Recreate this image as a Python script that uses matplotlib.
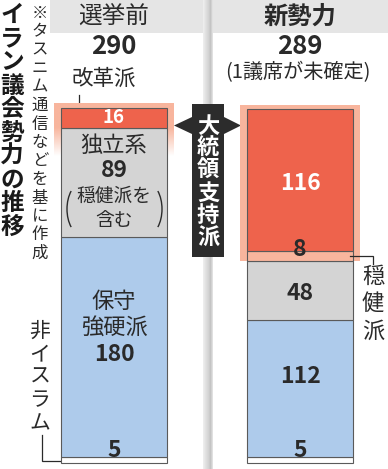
import numpy as np
import matplotlib
matplotlib.use("Agg")
import matplotlib.pyplot as plt
from matplotlib import transforms
from matplotlib.patches import Rectangle, Polygon, Arc
from matplotlib.colors import to_rgb

plt.rcParams['font.family'] = ['Noto Sans CJK JP', 'DejaVu Sans']

# ---- data -------------------------------------------------------------
periods = ["選挙前", "新勢力"]
non_islam = [5, 5]            # 非イスラム
hardliners = [180, 112]       # 保守強硬派
independents = [89, 48]       # 独立系 / 穏健派
moderates = [0, 8]            # 大統領支持の穏健派
reformists = [16, 116]        # 改革派
totals = [a + b + c + d + e for a, b, c, d, e in
          zip(non_islam, hardliners, independents, moderates, reformists)]

# ---- style ------------------------------------------------------------
INK = '#2a2a2a'
RED = '#ee634c'
SALMON = '#f8b59d'
GREY = '#d4d4d4'
BLUE = '#aecbeb'
EDGE = '#5a5a5a'

W, H = 388, 469
fig = plt.figure(figsize=(W / 100, H / 100), dpi=100)

# decoration layer in pixel coordinates
deco = fig.add_axes([0, 0, 1, 1], zorder=0)
deco.set_xlim(0, W)
deco.set_ylim(H, 0)
deco.axis('off')

# bar layer: x in pixels, y in seats
BASE_PX = 463
TOP_PX = 108
S = (BASE_PX - TOP_PX) / totals[0]        # pixels per seat
ax = fig.add_axes([0, 0, 1, 1], zorder=2)
ax.patch.set_alpha(0)
ax.axis('off')
YLIM = (-(H - BASE_PX) / S, BASE_PX / S)

xc = [114, 300]
BW = 106

# header band and divider
deco.add_patch(Rectangle((50, 0), W - 50, 33, color='#e5e5e5', lw=0))
grad = np.array([0.93, 0.91, 0.89, 0.87, 0.85, 0.83, 0.80, 0.77, 0.82, 0.88])
deco.imshow(np.repeat(grad[None, :, None], 3, axis=2), extent=[203, 213, H, 0],
            aspect='auto', interpolation='bilinear', zorder=1)

deco.text(xc[0], 17, periods[0], ha='center', va='center', fontsize=17, color=INK)
deco.text(xc[1], 17, periods[1], ha='center', va='center', fontsize=17.5,
          fontweight='bold', color=INK)
for x, t in zip(xc, totals):
    deco.text(x, 47, f"{t}", ha='center', va='center', fontsize=18.5,
              fontweight='bold', color=INK)
deco.text(298, 73, "(1議席が未確定)", ha='center', va='center', fontsize=14.5, color=INK)
deco.text(104, 79, "改革派", ha='center', va='center', fontsize=15.5, color=INK)


def vtext(a, x, y0, step, s, **kw):
    for i, ch in enumerate(s):
        a.text(x, y0 + i * step, ch, ha='center', va='center', **kw)


vtext(deco, 12, 15, 23.5, "イラン議会勢力の推移", fontsize=17, fontweight='bold', color='#1a1a1a')
vtext(deco, 40, 13, 18.5, "※タスニム通信などを基に作成", fontsize=11.8, color=INK)
vtext(deco, 40, 331, 23, "非イスラム", fontsize=15, color=INK)
vtext(deco, 373, 276, 27.5, "穏健派", fontsize=16, color=INK)

# leader lines
lk = dict(color=INK, lw=0.9, solid_joinstyle='miter')
deco.plot([79, 79], [95, 118], **lk)
deco.plot([42, 42, 63], [435, 461.5, 461.5], **lk)
ax.plot([350, 373, 373], [(BASE_PX - 255.5) / S, (BASE_PX - 255.5) / S, (BASE_PX - 264) / S],
        zorder=4, **lk)

# "大統領支持派" box with arrows
deco.add_patch(Rectangle((192, 104), 32, 153, color='#2c2c2c', lw=0, zorder=3))
deco.add_patch(Polygon([(192, 117), (192, 134), (174, 125.5)], closed=True,
                       color='#2c2c2c', lw=0, zorder=3))
deco.add_patch(Polygon([(224, 117), (224, 134), (241, 125.5)], closed=True,
                       color='#2c2c2c', lw=0, zorder=3))
vtext(deco, 208, 126, 22.4, "大統領支持派", fontsize=16, fontweight='bold',
      color='white', zorder=4)

# halos around president-supporting groups
PAD = 7
TOPPAD = 4.5 / S
sal = np.array(to_rgb(SALMON))
# before: fades out through the independents
top0 = totals[0] + TOPPAD
fade_end = totals[0] - reformists[0] - 28 / S
solid_end = totals[0] - reformists[0]
n = 200
ys = np.linspace(fade_end, top0, n)
alpha = np.clip((ys - fade_end) / (solid_end - fade_end), 0, 1)
img = np.zeros((n, 1, 4))
img[:, 0, :3] = sal
img[:, 0, 3] = alpha
ax.imshow(img, extent=[xc[0] - BW / 2 - PAD, xc[0] + BW / 2 + PAD, fade_end, top0],
          origin='lower', aspect='auto', interpolation='bilinear', zorder=1)
# after: solid down to the moderates
low1 = non_islam[1] + hardliners[1] + independents[1]
ax.add_patch(Rectangle((xc[1] - BW / 2 - PAD, low1), BW + 2 * PAD,
                       totals[1] + TOPPAD - low1, color=SALMON, lw=0, zorder=1))

# stacked bars
stack = [(non_islam, 'white'), (hardliners, BLUE), (independents, GREY),
         (moderates, SALMON), (reformists, RED)]
bottom = np.zeros(2)
mids = []
for vals, col in stack:
    v = np.array(vals, float)
    keep = v > 0
    ax.bar(np.array(xc)[keep], v[keep], width=BW, bottom=bottom[keep], color=col,
           edgecolor=EDGE, linewidth=0.8, zorder=2)
    mids.append(bottom + v / 2)
    bottom = bottom + v
m_non, m_hard, m_ind, m_mod, m_ref = mids


def label(x, seat, dy, s, **kw):
    tr = transforms.offset_copy(ax.transData, fig=fig, x=0, y=-dy, units='dots')
    kw.setdefault('color', INK)
    ax.text(x, seat, s, transform=tr, ha='center', va='center', zorder=3, **kw)


NUM = dict(fontsize=16.5, fontweight='bold')
JP = dict(fontsize=16)
NOTE = dict(fontsize=13.5)

# before
label(xc[0], m_ref[0], 0, f"{reformists[0]}", fontsize=13.5, fontweight='bold', color='white')
label(xc[0], m_ind[0], -37, "独立系", **JP)
label(xc[0], m_ind[0], -12, f"{independents[0]}", **NUM)
label(xc[0], m_ind[0], 14, "穏健派を", **NOTE)
label(xc[0], m_ind[0], 38, "含む", **NOTE)
label(xc[0], m_hard[0], -45, "保守", **JP)
label(xc[0], m_hard[0], -19, "強硬派", **JP)
label(xc[0], m_hard[0], 8, f"{hardliners[0]}", **NUM)
label(xc[0], m_non[0], -9, f"{non_islam[0]}", **NUM)

# tall parentheses around the note on moderates
py = BASE_PX - m_ind[0] * S + 27
for cx, t1, t2 in [(82, 121, 239), (147, -59, 59)]:
    ax.add_patch(Arc((cx, py), 30, 52, theta1=t1, theta2=t2, color=INK, lw=1.0,
                     transform=deco.transData, zorder=4))

# after
label(xc[1], m_ref[1], 3, f"{reformists[1]}", color='white', **NUM)
label(xc[1], m_mod[1], -7, f"{moderates[1]}", **NUM)
label(xc[1], m_ind[1], 3, f"{independents[1]}", **NUM)
label(xc[1], m_hard[1], -12, f"{hardliners[1]}", **NUM)
label(xc[1], m_non[1], -9, f"{non_islam[1]}", **NUM)

ax.set_xlim(0, W)
ax.set_ylim(*YLIM)

fig.savefig("out.png", dpi=100)
